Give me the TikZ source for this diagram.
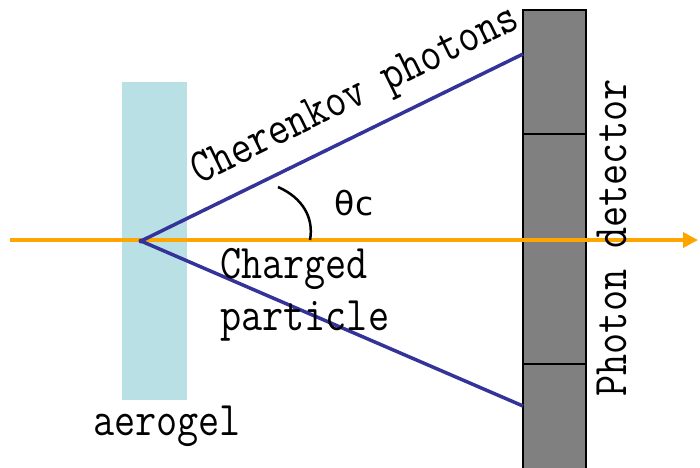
\documentclass[tikz,border=0pt]{standalone}
\usepackage{fontspec}
\newfontfamily\symfont{DejaVu Sans}
\usetikzlibrary{arrows.meta}
\definecolor{aerocol}{HTML}{B9E0E4}
\definecolor{detcol}{HTML}{808080}
\definecolor{beamcol}{HTML}{FFA500}
\definecolor{raycol}{HTML}{333399}
\newcommand{\tall}[1]{\scalebox{1}[1.18]{#1}}
\tikzset{
  lbl/.style={font=\ttfamily\fontsize{41}{52}\selectfont, inner sep=0pt},
  cell/.style={draw=black, line width=2pt, fill=detcol},
  ray/.style={draw=raycol, line width=3.5pt},
  beam/.style={draw=beamcol, line width=3.5pt, -{Triangle[length=15pt,width=15pt]}},
}
\begin{document}
\begin{tikzpicture}[x=1pt,y=-1pt]
\clip (0,0) rectangle (700,467);
\useasboundingbox (0,0) rectangle (700,467);
% aerogel radiator
\node[fill=aerocol, minimum width=65pt, minimum height=318pt, inner sep=0pt, anchor=north west] (aero) at (122,82) {};
\node[lbl, anchor=base] (aerolbl) at (167,435) {\tall{aerogel}};
% photon detector segments
\draw[cell] (523,10) rectangle (586,134);
\draw[cell] (523,134) rectangle (586,240);
\draw[cell] (523,240) rectangle (586,364);
\draw[cell] (523,364) rectangle (586,470);
\coordinate (hitup) at (523,54);
\coordinate (hitdn) at (523,406);
% charged particle track
\coordinate (start) at (10,240);
\coordinate (stop) at (698,240);
\draw[beam] (start) -- (stop);
% emission point and Cherenkov rays
\coordinate (vtx) at (141,241);
\draw[ray] (vtx) -- (hitup);
\draw[ray] (vtx) -- (hitdn);
\fill[raycol] (vtx) circle (2.5pt);
% Cherenkov angle
\coordinate (arcA) at (278,187);
\coordinate (arcB) at (310,240);
\draw[line width=2.5pt] (arcA) .. controls (303,198) and (314,218) .. (arcB);
\node[font=\symfont\fontsize{33}{36}\selectfont, inner sep=0pt, anchor=base] (theta) at (354,215) {θc};
% labels
\node[lbl, rotate=26.1] (cher) at (356,97) {\tall{Cherenkov photons}};
\node[lbl, anchor=base west] (charged) at (220,278) {\tall{Charged}};
\node[lbl, anchor=base west] (particle) at (220,330) {\tall{particle}};
\node[lbl, rotate=90, anchor=base] (det) at (626,238) {\tall{Photon detector}};
\end{tikzpicture}
\end{document}
